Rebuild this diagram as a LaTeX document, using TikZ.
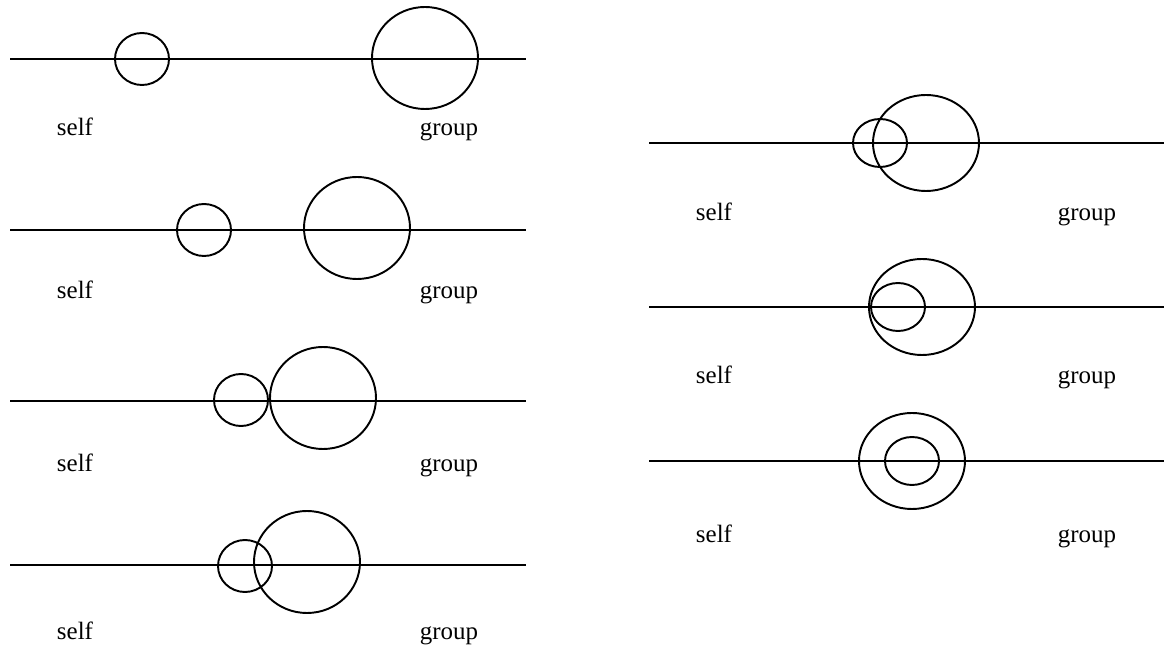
\documentclass[tikz,border=0pt]{standalone}
\usepackage{fontspec}
\setmainfont{Liberation Serif}

\tikzset{
  rowline/.style={line width=1.1pt},
  ring/.style={line width=1.1pt},
  lbl/.style={anchor=base, inner sep=0pt, font=\fontsize{14.2}{17}\selectfont}
}

\begin{document}
\begin{tikzpicture}[x=0.02cm, y=-0.02cm]

\useasboundingbox (0,0) rectangle (1164,648) ;

% left column
\draw [rowline] (10,59) to (526,59) ;
\draw [ring] (142,59) ellipse [x radius=27, y radius=26] ;
\draw [ring] (425,58) ellipse [x radius=53, y radius=51] ;
\node [lbl] (self1) at (75,136) {self} ;
\node [lbl] (group1) at (449,136) {group} ;

\draw [rowline] (10,230) to (526,230) ;
\draw [ring] (204,230) ellipse [x radius=27, y radius=26] ;
\draw [ring] (357,228) ellipse [x radius=53, y radius=51] ;
\node [lbl] (self2) at (75,299) {self} ;
\node [lbl] (group2) at (449,299) {group} ;

\draw [rowline] (10,401) to (526,401) ;
\draw [ring] (241,400) ellipse [x radius=27, y radius=26] ;
\draw [ring] (323,398) ellipse [x radius=53, y radius=51] ;
\node [lbl] (self3) at (75,472) {self} ;
\node [lbl] (group3) at (449,472) {group} ;

\draw [rowline] (10,565) to (526,565) ;
\draw [ring] (245,566) ellipse [x radius=27, y radius=26] ;
\draw [ring] (307,562) ellipse [x radius=53, y radius=51] ;
\node [lbl] (self4) at (75,640) {self} ;
\node [lbl] (group4) at (449,640) {group} ;

% right column
\draw [rowline] (649,143) to (1164,143) ;
\draw [ring] (880,143) ellipse [x radius=27, y radius=24] ;
\draw [ring] (926,143) ellipse [x radius=53, y radius=48] ;
\node [lbl] (self5) at (714,221) {self} ;
\node [lbl] (group5) at (1087,221) {group} ;

\draw [rowline] (649,307) to (1164,307) ;
\draw [ring] (922,307) ellipse [x radius=53, y radius=48] ;
\draw [ring] (898,307) ellipse [x radius=27, y radius=24] ;
\node [lbl] (self6) at (714,384) {self} ;
\node [lbl] (group6) at (1087,384) {group} ;

\draw [rowline] (649,461) to (1164,461) ;
\draw [ring] (912,461) ellipse [x radius=53, y radius=48] ;
\draw [ring] (912,461) ellipse [x radius=27, y radius=24] ;
\node [lbl] (self7) at (714,543) {self} ;
\node [lbl] (group7) at (1087,543) {group} ;

\end{tikzpicture}
\end{document}
